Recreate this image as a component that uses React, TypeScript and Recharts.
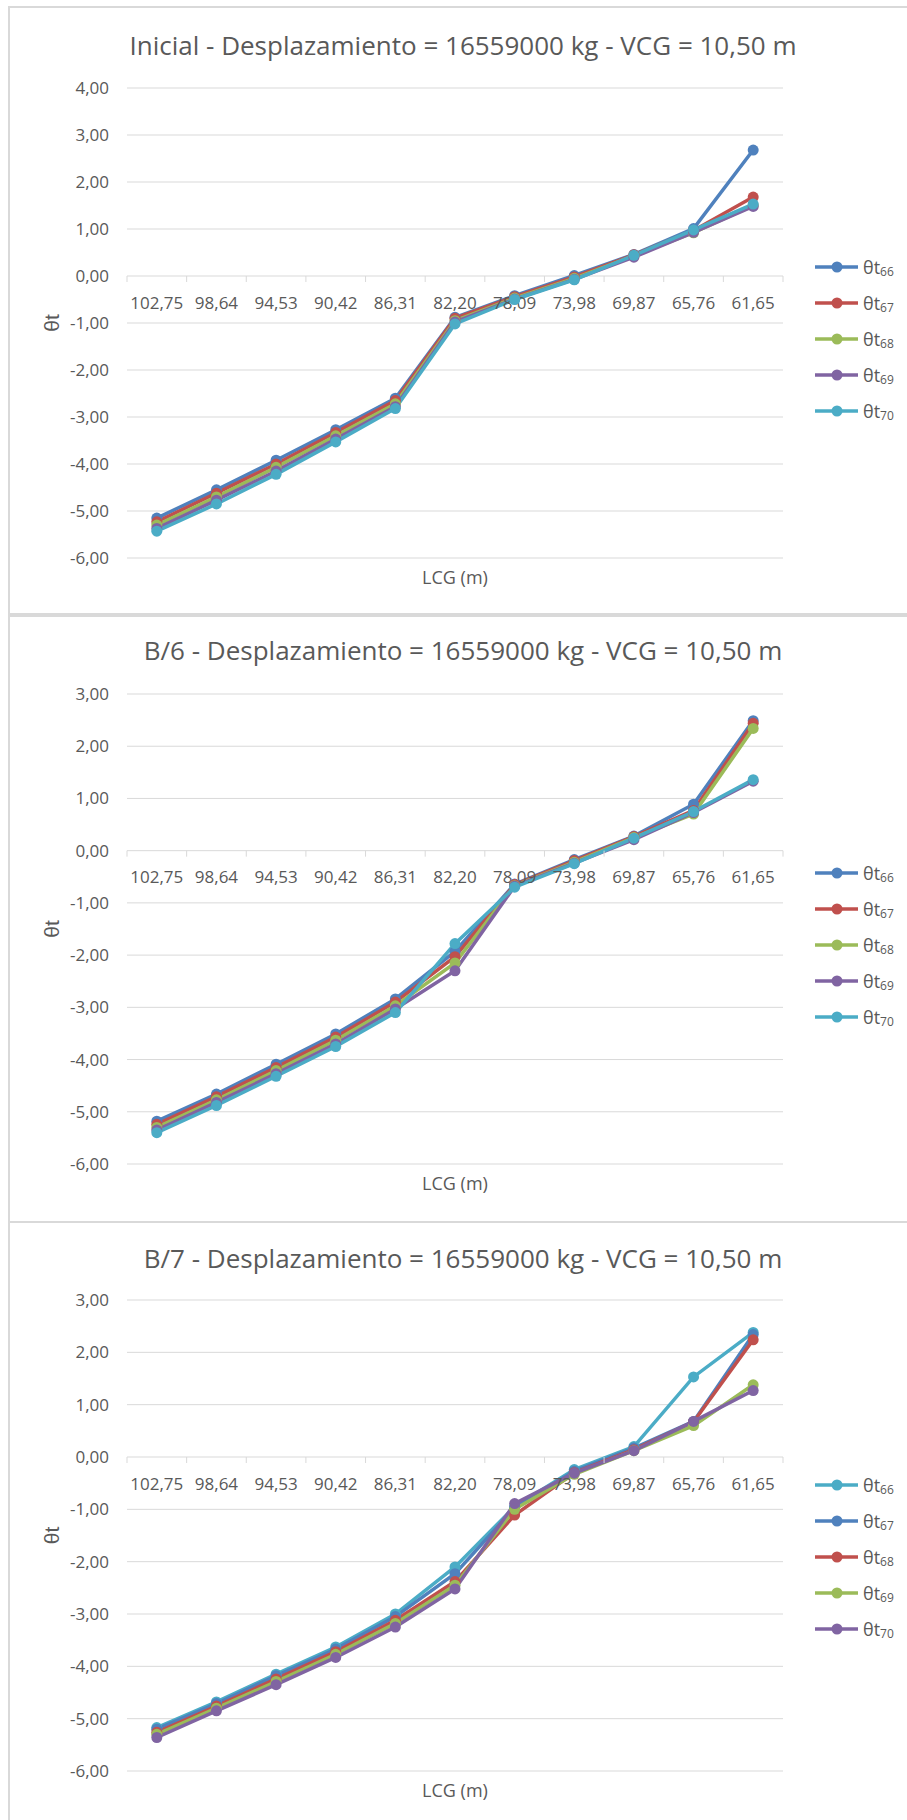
import React from "react"
import {
  LineChart,
  Line,
  XAxis,
  YAxis,
  CartesianGrid,
  ReferenceDot,
} from "recharts"

const FONT = "'Open Sans', 'Noto Sans', sans-serif"
const TEXT = "#595959"
const GRID = "#d9d9d9"

const categories = ["102,75", "98,64", "94,53", "90,42", "86,31", "82,20", "78,09", "73,98", "69,87", "65,76", "61,65"]
const boundaries = [-0.5, 0.5, 1.5, 2.5, 3.5, 4.5, 5.5, 6.5, 7.5, 8.5, 9.5, 10.5]
const seriesNames = ["66", "67", "68", "69", "70"]

const ticksInicial = [-6, -5, -4, -3, -2, -1, 0, 1, 2, 3, 4]
const ticksB = [-6, -5, -4, -3, -2, -1, 0, 1, 2, 3]

const BLUE = "#4F81BD"
const RED = "#C0504D"
const GREEN = "#9BBB59"
const PURPLE = "#8064A2"
const AQUA = "#4BACC6"

const colorsAB = [BLUE, RED, GREEN, PURPLE, AQUA]
const colorsC = [AQUA, BLUE, RED, GREEN, PURPLE]

// Inicial
const ini66 = [-5.15, -4.55, -3.92, -3.27, -2.6, -0.88, -0.42, 0.01, 0.46, 1.01, 2.68]
const ini67 = [-5.23, -4.62, -4.0, -3.33, -2.65, -0.9, -0.44, -0.02, 0.45, 0.97, 1.68]
const ini68 = [-5.3, -4.7, -4.07, -3.4, -2.72, -0.95, -0.47, -0.05, 0.43, 0.92, 1.5]
const ini69 = [-5.37, -4.77, -4.15, -3.47, -2.78, -0.98, -0.49, -0.07, 0.4, 0.93, 1.48]
const ini70 = [-5.43, -4.85, -4.22, -3.53, -2.82, -1.02, -0.5, -0.08, 0.44, 0.98, 1.53]

// B/6
const b6_66 = [-5.18, -4.66, -4.09, -3.51, -2.84, -1.93, -0.64, -0.17, 0.28, 0.89, 2.49]
const b6_67 = [-5.24, -4.71, -4.15, -3.57, -2.9, -2.03, -0.65, -0.19, 0.27, 0.77, 2.44]
const b6_68 = [-5.3, -4.77, -4.21, -3.63, -2.97, -2.15, -0.67, -0.22, 0.25, 0.7, 2.34]
const b6_69 = [-5.35, -4.82, -4.27, -3.7, -3.03, -2.3, -0.68, -0.24, 0.21, 0.73, 1.33]
const b6_70 = [-5.4, -4.88, -4.32, -3.75, -3.1, -1.78, -0.7, -0.25, 0.24, 0.75, 1.36]

// B/7
const b7_66 = [-5.17, -4.68, -4.15, -3.63, -3.0, -2.1, -0.95, -0.24, 0.2, 1.53, 2.38]
const b7_67 = [-5.2, -4.71, -4.18, -3.67, -3.05, -2.23, -0.97, -0.27, 0.17, 0.68, 2.34]
const b7_68 = [-5.26, -4.76, -4.24, -3.72, -3.12, -2.38, -1.11, -0.3, 0.14, 0.67, 2.24]
const b7_69 = [-5.3, -4.8, -4.29, -3.77, -3.18, -2.45, -1.0, -0.33, 0.12, 0.6, 1.38]
const b7_70 = [-5.36, -4.85, -4.35, -3.83, -3.25, -2.52, -0.89, -0.31, 0.12, 0.68, 1.27]

const buildRows = (series: number[][]) =>
  categories.map((c, i) => {
    const row: Record<string, number | string> = { i, cat: c }
    series.forEach((s, k) => {
      row["t" + seriesNames[k]] = s[i]
    })
    return row
  })

const panels = [
  {
    title: "Inicial - Desplazamiento = 16559000 kg - VCG = 10,50 m",
    top: 0,
    height: 615,
    plotTop: 88,
    plotBottom: 558,
    titleY: 45,
    legendY: 267,
    domain: [-6, 4],
    ticks: ticksInicial,
    colors: colorsAB,
    rows: buildRows([ini66, ini67, ini68, ini69, ini70]),
  },
  {
    title: "B/6 - Desplazamiento = 16559000 kg - VCG = 10,50 m",
    top: 615,
    height: 606,
    plotTop: 694,
    plotBottom: 1164,
    titleY: 650,
    legendY: 873,
    domain: [-6, 3],
    ticks: ticksB,
    colors: colorsAB,
    rows: buildRows([b6_66, b6_67, b6_68, b6_69, b6_70]),
  },
  {
    title: "B/7 - Desplazamiento = 16559000 kg - VCG = 10,50 m",
    top: 1221,
    height: 599,
    plotTop: 1300,
    plotBottom: 1771,
    titleY: 1258,
    legendY: 1485,
    domain: [-6, 3],
    ticks: ticksB,
    colors: colorsC,
    rows: buildRows([b7_66, b7_67, b7_68, b7_69, b7_70]),
  },
]

const fmt = (v: number) => v.toFixed(2).replace(".", ",")

function Panel({ p }: { p: (typeof panels)[number] }) {
  const h = p.height
  return (
    <>
      <div
        style={{
          position: "absolute",
          left: 8,
          top: p.top === 0 ? 6 : p.top,
          width: 940,
          height: p.top === 0 ? h - 6 : h + 40,
          border: `2px solid ${GRID}`,
          boxSizing: "border-box",
          background: "#fff",
        }}
      />
      <div style={{ position: "absolute", left: 0, top: p.top }}>
        <LineChart
          width={907}
          height={h}
          data={p.rows}
          margin={{ top: p.plotTop - p.top, right: 124, bottom: p.top + h - p.plotBottom, left: 67 }}
        >
          <CartesianGrid vertical={false} stroke={GRID} />
          <XAxis type="number" dataKey="i" domain={[-0.5, 10.5]} hide />
          <YAxis
            type="number"
            domain={p.domain}
            ticks={p.ticks}
            interval={0}
            width={60}
            axisLine={false}
            tickLine={false}
            tickMargin={12}
            tickFormatter={fmt}
            tick={{ fill: TEXT, fontSize: 17, fontFamily: FONT }}
          />
          {boundaries.map((b) => (
            <ReferenceDot
              key={"b" + b}
              x={b}
              y={0}
              ifOverflow="visible"
              shape={(s: any) => (
                <line x1={s.cx} y1={s.cy} x2={s.cx} y2={s.cy + 6} stroke={GRID} strokeWidth={1} />
              )}
            />
          ))}
          {categories.map((c, i) => (
            <ReferenceDot
              key={"c" + c}
              x={i}
              y={0}
              ifOverflow="visible"
              shape={(s: any) => (
                <text
                  x={s.cx}
                  y={s.cy + 26}
                  textAnchor="middle"
                  dominantBaseline="central"
                  fill={TEXT}
                  fontSize={17}
                  fontFamily={FONT}
                >
                  {c}
                </text>
              )}
            />
          ))}
          {seriesNames.map((n, k) => (
            <Line
              key={n}
              type="linear"
              dataKey={"t" + n}
              stroke={p.colors[k]}
              strokeWidth={3.5}
              dot={{ r: 5.5, fill: p.colors[k], stroke: p.colors[k], strokeWidth: 0 }}
              activeDot={false}
              isAnimationActive={false}
            />
          ))}
        </LineChart>
      </div>
      <svg
        width={907}
        height={h}
        style={{ position: "absolute", left: 0, top: p.top, pointerEvents: "none" }}
      >
        <text
          x={463}
          y={p.titleY - p.top}
          textAnchor="middle"
          dominantBaseline="central"
          fill={TEXT}
          fontSize={26}
          fontFamily={FONT}
        >
          {p.title}
        </text>
        <text
          x={51}
          y={(p.plotTop + p.plotBottom) / 2 - p.top}
          transform={`rotate(-90 51 ${(p.plotTop + p.plotBottom) / 2 - p.top})`}
          textAnchor="middle"
          dominantBaseline="central"
          fill={TEXT}
          fontSize={21}
          fontFamily="'Liberation Sans', Arial, sans-serif"
        >
          θt
        </text>
        <text
          x={455}
          y={p.plotBottom + 19 - p.top}
          textAnchor="middle"
          dominantBaseline="central"
          fill={TEXT}
          fontSize={18}
          fontFamily={FONT}
        >
          LCG (m)
        </text>
        {seriesNames.map((n, k) => {
          const y = p.legendY - p.top + k * 36
          return (
            <g key={n}>
              <line x1={815} y1={y} x2={858} y2={y} stroke={p.colors[k]} strokeWidth={3.5} />
              <circle cx={837} cy={y} r={5.5} fill={p.colors[k]} />
              <text x={863} y={y} dominantBaseline="central" fill={TEXT} fontSize={18} fontFamily={FONT}>
                θt
                <tspan fontSize={12} dy={4}>
                  {n}
                </tspan>
              </text>
            </g>
          )
        })}
      </svg>
    </>
  )
}

export default function App() {
  return (
    <div style={{ position: "relative", width: 907, height: 1820, overflow: "hidden", background: "#fff" }}>
      <style>{`body{margin:0}`}</style>
      {panels.map((p) => (
        <Panel key={p.title} p={p} />
      ))}
    </div>
  )
}
